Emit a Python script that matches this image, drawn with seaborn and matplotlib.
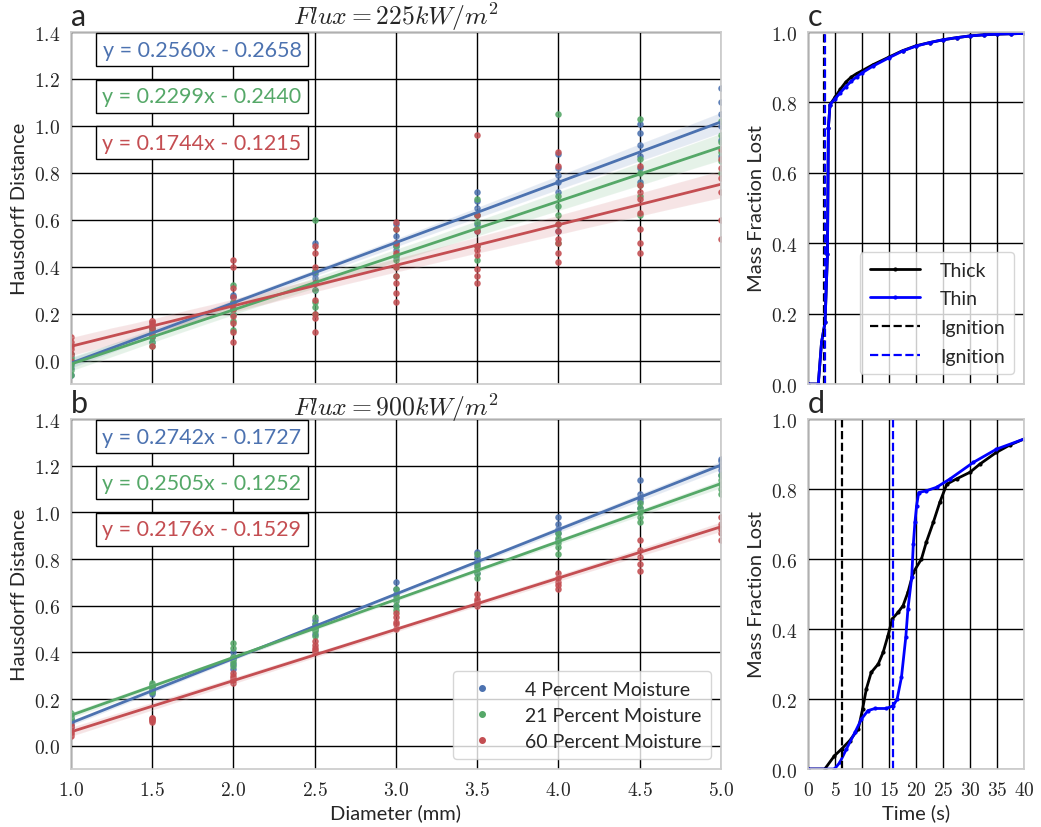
import matplotlib.pyplot as plt
import matplotlib.ticker as mticker
from matplotlib.lines import Line2D
import pandas as pd
import seaborn as sns


sns.set_theme(style="whitegrid")
plt.rcParams.update({
    "font.family": ["Lato", "DejaVu Sans"],
    "mathtext.fontset": "cm",
    "grid.color": "black",
    "grid.linewidth": 1.0,
    "axes.edgecolor": ".8",
})

DIAMETERS = [1.0, 1.5, 2.0, 2.5, 3.0, 3.5, 4.0, 4.5, 5.0]
MOISTURE = ["4 Percent Moisture", "21 Percent Moisture", "60 Percent Moisture"]
COLORS = ["#4C72B0", "#55A868", "#C44E52"]

# flux 225 kW/m2, Hausdorff distance per diameter
A_4PCT = [
    [-0.06, -0.03, -0.01, 0.0, 0.02, 0.03],
    [0.08, 0.10, 0.12, 0.13, 0.14, 0.15],
    [0.20, 0.22, 0.24, 0.25, 0.27, 0.28],
    [0.30, 0.33, 0.35, 0.37, 0.38, 0.50],
    [0.44, 0.47, 0.49, 0.50, 0.53, 0.58],
    [0.55, 0.58, 0.62, 0.65, 0.68, 0.72],
    [0.55, 0.72, 0.76, 0.79, 0.82, 0.88],
    [0.76, 0.82, 0.87, 0.92, 0.97, 1.01],
    [0.87, 0.94, 1.00, 1.05, 1.10, 1.16],
]
A_21PCT = [
    [-0.06, -0.04, -0.02, 0.0, 0.01, 0.03],
    [0.06, 0.08, 0.10, 0.11, 0.12, 0.14],
    [0.13, 0.17, 0.20, 0.22, 0.25, 0.32],
    [0.20, 0.23, 0.25, 0.30, 0.38, 0.60],
    [0.36, 0.40, 0.43, 0.45, 0.49, 0.56],
    [0.43, 0.49, 0.56, 0.59, 0.62, 0.69],
    [0.50, 0.58, 0.62, 0.66, 0.70, 1.05],
    [0.62, 0.70, 0.75, 0.80, 0.86, 1.03],
    [0.80, 0.85, 0.89, 0.93, 0.96, 1.02],
]
A_60PCT = [
    [0.0, 0.03, 0.05, 0.06, 0.08, 0.10],
    [0.06, 0.11, 0.14, 0.16, 0.17, 0.17],
    [0.08, 0.12, 0.16, 0.19, 0.22, 0.27, 0.31, 0.40, 0.43],
    [0.12, 0.18, 0.20, 0.26, 0.33, 0.40, 0.46, 0.49],
    [0.25, 0.29, 0.33, 0.36, 0.40, 0.46, 0.50, 0.56, 0.59],
    [0.33, 0.36, 0.39, 0.45, 0.47, 0.49, 0.55, 0.62, 0.96],
    [0.42, 0.46, 0.50, 0.52, 0.55, 0.58, 0.83, 0.89],
    [0.46, 0.50, 0.56, 0.63, 0.69, 0.72, 0.75, 0.83],
    [0.52, 0.60, 0.72, 0.78, 0.82, 0.86, 0.90],
]

# flux 900 kW/m2
B_4PCT = [
    [0.08, 0.09, 0.10, 0.11, 0.12],
    [0.22, 0.23, 0.24, 0.25, 0.26],
    [0.33, 0.35, 0.37, 0.38, 0.40],
    [0.48, 0.50, 0.51, 0.52, 0.54],
    [0.60, 0.63, 0.65, 0.67, 0.70],
    [0.74, 0.77, 0.79, 0.81, 0.83],
    [0.88, 0.91, 0.93, 0.95, 0.98],
    [1.02, 1.05, 1.06, 1.08, 1.14],
    [1.16, 1.18, 1.20, 1.22, 1.23],
]
B_21PCT = [
    [0.11, 0.12, 0.13, 0.14],
    [0.23, 0.24, 0.25, 0.26, 0.27],
    [0.34, 0.36, 0.37, 0.38, 0.42, 0.44],
    [0.47, 0.49, 0.50, 0.52, 0.55],
    [0.58, 0.60, 0.62, 0.64, 0.67],
    [0.72, 0.74, 0.76, 0.78, 0.82],
    [0.82, 0.85, 0.87, 0.89, 0.91],
    [0.96, 0.98, 1.00, 1.02, 1.04],
    [1.08, 1.10, 1.12, 1.14, 1.16],
]
B_60PCT = [
    [0.04, 0.05, 0.06, 0.08, 0.09],
    [0.10, 0.11, 0.11, 0.12, 0.12],
    [0.27, 0.28, 0.29, 0.30, 0.31],
    [0.40, 0.41, 0.42, 0.43, 0.45],
    [0.50, 0.52, 0.53, 0.55, 0.57],
    [0.60, 0.61, 0.62, 0.63, 0.65],
    [0.67, 0.69, 0.70, 0.72, 0.74],
    [0.75, 0.78, 0.81, 0.84, 0.88],
    [0.88, 0.91, 0.93, 0.95, 0.98],
]

A_EQUATIONS = ["y = 0.2560x - 0.2658", "y = 0.2299x - 0.2440", "y = 0.1744x - 0.1215"]
B_EQUATIONS = ["y = 0.2742x - 0.1727", "y = 0.2505x - 0.1252", "y = 0.2176x - 0.1529"]

# mass fraction lost, flux 225 kW/m2
C_TIME_THICK = [0, 1.9, 2.5, 3.15, 3.6, 3.77, 4.07, 5, 6, 7, 8, 9, 10, 12, 15, 17.5, 20,
                22.5, 25, 27.5, 30, 32.5, 35, 37.5, 40]
C_THICK = [0, 0, 0.118, 0.175, 0.37, 0.728, 0.794, 0.815, 0.838, 0.858, 0.872, 0.882, 0.89,
           0.907, 0.929, 0.947, 0.961, 0.970, 0.978, 0.984, 0.989, 0.992, 0.994, 0.995, 0.996]
C_TIME_THIN = [0, 1.9, 2.5, 3.15, 3.6, 3.77, 4.07, 5, 6, 7, 8, 9, 10, 12, 15, 17.5, 20,
               22.5, 25, 27.5, 30, 32.5, 35, 37.5, 40]
C_THIN = [0, 0, 0.118, 0.175, 0.37, 0.728, 0.794, 0.81, 0.828, 0.845, 0.86, 0.873, 0.884,
          0.903, 0.927, 0.946, 0.960, 0.970, 0.978, 0.984, 0.989, 0.992, 0.994, 0.995, 0.996]
C_IGNITION = [3.0, 3.15]

# mass fraction lost, flux 900 kW/m2
D_TIME_THICK = [0, 3.1, 4.9, 6.2, 7.7, 9.3, 10.1, 10.8, 11.7, 13.0, 13.9, 14.8, 15.6, 16.7,
                17.6, 18.5, 19.5, 21.0, 21.9, 23.2, 24.4, 25.7, 27.5, 30.0, 31.8, 34.9, 37.4, 40]
D_THICK = [0, 0, 0.038, 0.057, 0.081, 0.114, 0.171, 0.229, 0.276, 0.30, 0.333, 0.381, 0.429,
           0.448, 0.467, 0.505, 0.562, 0.60, 0.648, 0.705, 0.762, 0.814, 0.829, 0.848, 0.871,
           0.905, 0.926, 0.943]
D_TIME_THIN = [0, 4.9, 5.9, 7.1, 8.7, 9.9, 11.1, 12.4, 14.5, 15.8, 16.5, 17.3, 18.1, 18.5,
               19.2, 19.5, 19.8, 20.1, 20.5, 21.9, 23.8, 26.3, 30.6, 34.9, 40]
D_THIN = [0, 0, 0.019, 0.057, 0.105, 0.143, 0.167, 0.173, 0.173, 0.181, 0.2, 0.262, 0.376,
          0.457, 0.548, 0.643, 0.705, 0.752, 0.79, 0.795, 0.805, 0.829, 0.876, 0.914, 0.943]
D_IGNITION = [6.2, 15.8]


def to_frame(groups) -> pd.DataFrame:
    rows = []
    for label, series in zip(MOISTURE, groups):
        for d, vals in zip(DIAMETERS, series):
            for v in vals:
                rows.append({"Moisture": label, "Diameter": d, "Hausdorff": v})
    return pd.DataFrame(rows)


def tex_fmt(decimals):
    return mticker.FuncFormatter(lambda v, p: f"${v:.{decimals}f}$")


def plot_hausdorff(ax, groups, equations, title, letter):
    df = to_frame(groups)
    for label, color in zip(MOISTURE, COLORS):
        sub = df[df["Moisture"] == label]
        sns.regplot(data=sub, x="Diameter", y="Hausdorff", ax=ax, color=color,
                    scatter_kws={"s": 14}, line_kws={"lw": 2}, seed=0)
    for i, (eq, color) in enumerate(zip(equations, COLORS)):
        ax.text(0.2015, 0.950 - i * 0.1325, eq, transform=ax.transAxes, color=color,
                fontsize=15.5, ha="center", va="center", zorder=5,
                bbox=dict(boxstyle="square,pad=0.3", fc="white", ec="black", lw=1))
    ax.set_xlim(1.0, 5.0)
    ax.set_ylim(-0.1, 1.4)
    ax.set_xticks(DIAMETERS)
    ax.set_yticks([0.0, 0.2, 0.4, 0.6, 0.8, 1.0, 1.2, 1.4])
    ax.xaxis.set_major_formatter(tex_fmt(1))
    ax.yaxis.set_major_formatter(tex_fmt(1))
    ax.set_title(title, fontsize=18.5, pad=3)
    ax.set_ylabel("Hausdorff Distance", fontsize=14.5)
    ax.set_xlabel("")
    ax.text(0.0, 1.005, letter, transform=ax.transAxes, fontsize=22, va="bottom", ha="left")


def plot_mass(ax, t_thick, thick, t_thin, thin, ignition, letter):
    ax.plot(t_thick, thick, color="black", lw=2, marker=".", markersize=4, label="Thick")
    ax.plot(t_thin, thin, color="blue", lw=2, marker=".", markersize=4, label="Thin")
    ax.axvline(ignition[0], color="black", ls="--", lw=1.6, label="Ignition")
    ax.axvline(ignition[1], color="blue", ls="--", lw=1.6, label="Ignition")
    ax.set_xlim(0, 40)
    ax.set_ylim(0, 1)
    ax.set_xticks(range(0, 41, 5))
    ax.set_yticks([0.0, 0.2, 0.4, 0.6, 0.8, 1.0])
    ax.xaxis.set_major_formatter(tex_fmt(0))
    ax.yaxis.set_major_formatter(tex_fmt(1))
    ax.set_ylabel("Mass Fraction Lost", fontsize=14.5)
    ax.text(0.0, 1.005, letter, transform=ax.transAxes, fontsize=22, va="bottom", ha="left")


fig = plt.figure(figsize=(10.41, 8.28), dpi=100)
ax_a = fig.add_axes([0.0682, 0.535, 0.6244, 0.4251])
ax_b = fig.add_axes([0.0682, 0.0700, 0.6244, 0.4227])
ax_c = fig.add_axes([0.7762, 0.535, 0.2075, 0.4251])
ax_d = fig.add_axes([0.7762, 0.0700, 0.2075, 0.4227])

plot_hausdorff(ax_a, [A_4PCT, A_21PCT, A_60PCT], A_EQUATIONS, r"$Flux = 225 kW/m^2$", "a")
plot_hausdorff(ax_b, [B_4PCT, B_21PCT, B_60PCT], B_EQUATIONS, r"$Flux = 900 kW/m^2$", "b")
ax_a.tick_params(axis="x", labelbottom=False)
ax_b.set_xlabel("Diameter (mm)", fontsize=14.5)
handles = [Line2D([], [], ls="", marker="o", markersize=4, color=c) for c in COLORS]
ax_b.legend(handles, MOISTURE, loc="lower right", fontsize=14, frameon=True,
            handletextpad=1.2, borderpad=0.5, labelspacing=0.45)

plot_mass(ax_c, C_TIME_THICK, C_THICK, C_TIME_THIN, C_THIN, C_IGNITION, "c")
plot_mass(ax_d, D_TIME_THICK, D_THICK, D_TIME_THIN, D_THIN, D_IGNITION, "d")
ax_c.tick_params(axis="x", labelbottom=False)
ax_c.legend(loc="lower right", fontsize=14, frameon=True, handlelength=2.6,
            handletextpad=1.0, labelspacing=0.6, borderpad=0.5)
ax_d.set_xlabel("Time (s)", fontsize=14.5)

for ax in (ax_a, ax_b, ax_c, ax_d):
    ax.tick_params(labelsize=14, pad=2)

fig.savefig("out.png", dpi=100)
plt.close(fig)
